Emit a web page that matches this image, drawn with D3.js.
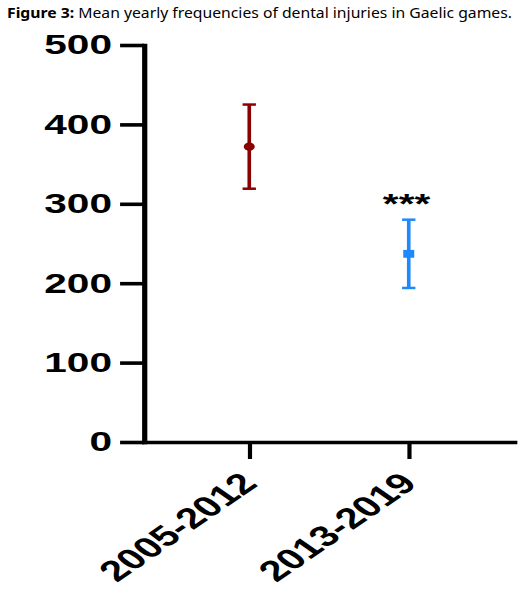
<!DOCTYPE html>
<html>
<head>
<meta charset="utf-8">
<script src="https://cdn.jsdelivr.net/npm/d3@7"></script>
<style>
  html, body { margin: 0; padding: 0; background: #fff; }
  svg { display: block; }
</style>
</head>
<body>
<svg id="chart" width="526" height="602"></svg>
<script>
// ---- data ----
const categories = ["2005-2012", "2013-2019"];
const means = [372, 237];
const sdErrors = [53, 43];
const significance = ["", "***"];
const yTicks = [0, 100, 200, 300, 400, 500];
const titleBold = "Figure 3:";
const titleRest = " Mean yearly frequencies of dental injuries in Gaelic games.";

// ---- layout ----
const W = 526, H = 602;
const sx = 1.45; // horizontal stretch of the original image
const svg = d3.select("#chart");

// title (not stretched)
const title = svg.append("text")
  .attr("x", 7).attr("y", 18)
  .attr("font-family", "'Noto Sans', 'DejaVu Sans', sans-serif")
  .attr("font-size", 15)
  .attr("fill", "#000");
title.append("tspan").attr("font-weight", "bold").text(titleBold);
title.append("tspan").text(titleRest);
title.attr("textLength", 505).attr("lengthAdjust", "spacingAndGlyphs");

const g = svg.append("g").attr("transform", `scale(${sx},1)`);

const axisX0 = 144 / sx, axisX1 = 514 / sx;
const y = d3.scaleLinear().domain([0, 500]).range([442, 45]);
const x = d3.scalePoint().domain(categories).range([axisX0, axisX1]).padding(0.66);

const axisStroke = 3.6;
const font = "'Liberation Sans', Arial, sans-serif";

// y axis
const yAxis = g.append("g")
  .attr("transform", `translate(${axisX0},0)`)
  .call(d3.axisLeft(y).tickValues(yTicks).tickSize(16.5).tickSizeOuter(0).tickPadding(5.6));
yAxis.select(".domain").attr("stroke", "#000").attr("stroke-width", axisStroke).attr("stroke-linecap", "square");
yAxis.selectAll(".tick line").attr("stroke", "#000").attr("stroke-width", axisStroke);
yAxis.selectAll(".tick text")
  .attr("font-family", font).attr("font-weight", "bold").attr("font-size", 28).attr("fill", "#000");

// x axis
const xAxis = g.append("g")
  .attr("transform", `translate(0,${y(0)})`)
  .call(d3.axisBottom(x).tickSize(17).tickSizeOuter(0));
xAxis.select(".domain").attr("stroke", "#000").attr("stroke-width", axisStroke).attr("stroke-linecap", "square");
xAxis.selectAll(".tick line").attr("stroke", "#000").attr("stroke-width", axisStroke * 0.8);
xAxis.selectAll(".tick text")
  .attr("x", 0).attr("y", 0).attr("dy", 0)
  .attr("text-anchor", "end")
  .attr("transform", "translate(6.2,43) rotate(-45)")
  .attr("font-family", font).attr("font-weight", "bold").attr("font-size", 29).attr("fill", "#000");

// error bars + markers
const colors = ["#8B0000", "#1E88FF"];
const capHalf = 4.6;
const data = categories.map((c, i) => ({ c, m: means[i], e: sdErrors[i], col: colors[i], sig: significance[i], i }));

const bars = g.append("g").selectAll("g").data(data).join("g");
bars.append("line")
  .attr("x1", d => x(d.c)).attr("x2", d => x(d.c))
  .attr("y1", d => y(d.m + d.e)).attr("y2", d => y(d.m - d.e))
  .attr("stroke", d => d.col).attr("stroke-width", 2.5);
bars.append("line")
  .attr("x1", d => x(d.c) - capHalf).attr("x2", d => x(d.c) + capHalf)
  .attr("y1", d => y(d.m + d.e)).attr("y2", d => y(d.m + d.e))
  .attr("stroke", d => d.col).attr("stroke-width", 2.5);
bars.append("line")
  .attr("x1", d => x(d.c) - capHalf).attr("x2", d => x(d.c) + capHalf)
  .attr("y1", d => y(d.m - d.e)).attr("y2", d => y(d.m - d.e))
  .attr("stroke", d => d.col).attr("stroke-width", 2.5);

bars.filter(d => d.i === 0).append("ellipse")
  .attr("cx", d => x(d.c)).attr("cy", d => y(d.m))
  .attr("rx", 3.8).attr("ry", 4.2)
  .attr("fill", d => d.col);
bars.filter(d => d.i === 1).append("rect")
  .attr("x", d => x(d.c) - 3.8).attr("y", d => y(d.m) - 3.9)
  .attr("width", 7.6).attr("height", 7.8)
  .attr("fill", d => d.col);

// significance stars
bars.filter(d => d.sig).append("text")
  .attr("x", d => x(d.c) - 1.5)
  .attr("y", d => y(d.m + d.e) - 7)
  .attr("text-anchor", "middle")
  .attr("font-family", font).attr("font-weight", "bold").attr("font-size", 28)
  .attr("fill", "#000")
  .text(d => d.sig);
</script>
</body>
</html>
